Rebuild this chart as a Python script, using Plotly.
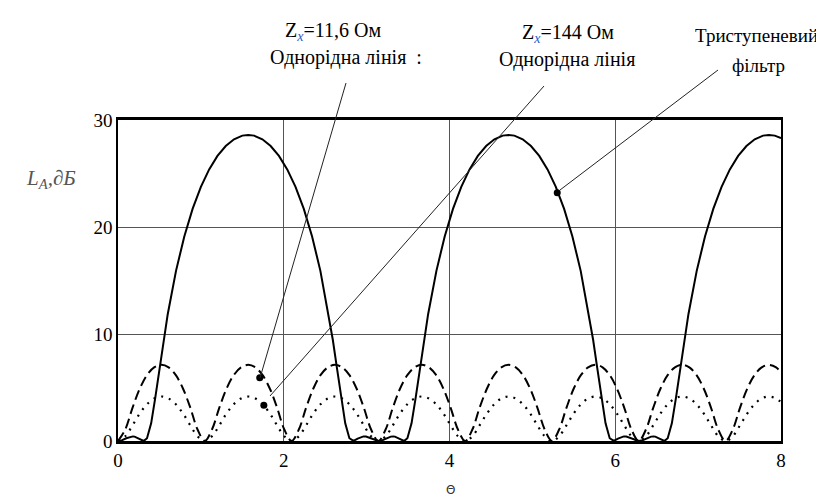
import plotly.graph_objects as go

# ---------------- data ----------------
# Three-section (stepped) filter, solid curve
theta_filter = [
    0.000, 0.050, 0.100, 0.150, 0.180, 0.200, 0.250, 0.300, 0.310, 0.350, 0.400, 0.450,
    0.500, 0.550, 0.600, 0.700, 0.800, 0.900, 1.000, 1.100, 1.200, 1.300, 1.400, 1.500, 1.571,
    1.642, 1.742, 1.842, 1.942, 2.042, 2.142, 2.242, 2.342, 2.442, 2.542, 2.592, 2.642,
    2.692, 2.742, 2.792, 2.832, 2.842, 2.892, 2.942, 2.962, 2.992, 3.042, 3.092, 3.142,
    3.192, 3.242, 3.292, 3.322, 3.342, 3.392, 3.442, 3.452, 3.492, 3.542, 3.592, 3.642,
    3.692, 3.742, 3.842, 3.942, 4.042, 4.142, 4.242, 4.342, 4.442, 4.542, 4.642, 4.712,
    4.783, 4.883, 4.983, 5.083, 5.183, 5.283, 5.383, 5.483, 5.583, 5.683, 5.733, 5.783,
    5.833, 5.883, 5.933, 5.973, 5.983, 6.033, 6.083, 6.103, 6.133, 6.183, 6.233, 6.283,
    6.333, 6.383, 6.433, 6.463, 6.483, 6.533, 6.583, 6.593, 6.633, 6.683, 6.733, 6.783,
    6.833, 6.883, 6.983, 7.083, 7.183, 7.283, 7.383, 7.483, 7.583, 7.683, 7.783, 7.854,
    7.925, 8.000,
]
la_filter = [
    0.00, 0.08, 0.26, 0.41, 0.43, 0.41, 0.23, 0.01, 0.00, 0.26, 1.65, 4.06,
    6.81, 9.46, 11.85, 15.90, 19.12, 21.69, 23.75, 25.38, 26.64, 27.57, 28.20, 28.54, 28.60,
    28.54, 28.20, 27.57, 26.64, 25.38, 23.75, 21.69, 19.12, 15.90, 11.85, 9.46, 6.81,
    4.06, 1.65, 0.26, 0.00, 0.01, 0.23, 0.41, 0.43, 0.41, 0.26, 0.08, 0.00,
    0.08, 0.26, 0.41, 0.43, 0.41, 0.23, 0.01, 0.00, 0.26, 1.65, 4.06, 6.81,
    9.46, 11.85, 15.90, 19.12, 21.69, 23.75, 25.38, 26.64, 27.57, 28.20, 28.54, 28.60,
    28.54, 28.20, 27.57, 26.64, 25.38, 23.75, 21.69, 19.12, 15.90, 11.85, 9.46, 6.81,
    4.06, 1.65, 0.26, 0.00, 0.01, 0.23, 0.41, 0.43, 0.41, 0.26, 0.08, 0.00,
    0.08, 0.26, 0.41, 0.43, 0.41, 0.23, 0.01, 0.00, 0.26, 1.65, 4.06, 6.81,
    9.46, 11.85, 15.90, 19.12, 21.69, 23.75, 25.38, 26.64, 27.57, 28.20, 28.54, 28.60,
    28.54, 28.30,
]

# Uniform lines (Zx = 11.6 Ohm dashed, Zx = 144 Ohm dotted)
theta_line = [
    0.000, 0.087, 0.175, 0.262, 0.349, 0.436, 0.524, 0.611, 0.698, 0.785, 0.873, 0.960,
    1.047, 1.134, 1.222, 1.309, 1.396, 1.484, 1.571, 1.658, 1.745, 1.833, 1.920, 2.007,
    2.094, 2.182, 2.269, 2.356, 2.443, 2.531, 2.618, 2.705, 2.793, 2.880, 2.967, 3.054,
    3.142, 3.229, 3.316, 3.403, 3.491, 3.578, 3.665, 3.752, 3.840, 3.927, 4.014, 4.102,
    4.189, 4.276, 4.363, 4.451, 4.538, 4.625, 4.712, 4.800, 4.887, 4.974, 5.061, 5.149,
    5.236, 5.323, 5.411, 5.498, 5.585, 5.672, 5.760, 5.847, 5.934, 6.021, 6.109, 6.196,
    6.283, 6.370, 6.458, 6.545, 6.632, 6.720, 6.807, 6.894, 6.981, 7.069, 7.156, 7.243,
    7.330, 7.418, 7.505, 7.592, 7.679, 7.767, 7.854, 7.941, 8.029,
]
la_line_11_6 = [
    0.00, 1.07, 3.10, 4.88, 6.15, 6.88, 7.12, 6.88, 6.15, 4.88, 3.10, 1.07,
    0.00, 1.07, 3.10, 4.88, 6.15, 6.88, 7.12, 6.88, 6.15, 4.88, 3.10, 1.07,
    0.00, 1.07, 3.10, 4.88, 6.15, 6.88, 7.12, 6.88, 6.15, 4.88, 3.10, 1.07,
    0.00, 1.07, 3.10, 4.88, 6.15, 6.88, 7.12, 6.88, 6.15, 4.88, 3.10, 1.07,
    0.00, 1.07, 3.10, 4.88, 6.15, 6.88, 7.12, 6.88, 6.15, 4.88, 3.10, 1.07,
    0.00, 1.07, 3.10, 4.88, 6.15, 6.88, 7.12, 6.88, 6.15, 4.88, 3.10, 1.07,
    0.00, 1.07, 3.10, 4.88, 6.15, 6.88, 7.12, 6.88, 6.15, 4.88, 3.10, 1.07,
    0.00, 1.07, 3.10, 4.88, 6.15, 6.88, 7.12, 6.88, 6.15,
]
la_line_144 = [
    0.00, 0.44, 1.46, 2.56, 3.43, 3.97, 4.16, 3.97, 3.43, 2.56, 1.46, 0.44,
    0.00, 0.44, 1.46, 2.56, 3.43, 3.97, 4.16, 3.97, 3.43, 2.56, 1.46, 0.44,
    0.00, 0.44, 1.46, 2.56, 3.43, 3.97, 4.16, 3.97, 3.43, 2.56, 1.46, 0.44,
    0.00, 0.44, 1.46, 2.56, 3.43, 3.97, 4.16, 3.97, 3.43, 2.56, 1.46, 0.44,
    0.00, 0.44, 1.46, 2.56, 3.43, 3.97, 4.16, 3.97, 3.43, 2.56, 1.46, 0.44,
    0.00, 0.44, 1.46, 2.56, 3.43, 3.97, 4.16, 3.97, 3.43, 2.56, 1.46, 0.44,
    0.00, 0.44, 1.46, 2.56, 3.43, 3.97, 4.16, 3.97, 3.43, 2.56, 1.46, 0.44,
    0.00, 0.44, 1.46, 2.56, 3.43, 3.97, 4.16, 3.97, 3.43,
]

# callout points on the curves
callout_theta = [1.71, 1.76, 5.30]
callout_la = [5.9, 3.35, 23.2]

x_ticks = [0, 2, 4, 6, 8]
y_ticks = [0, 10, 20, 30]

SERIF = "Liberation Serif"

fig = go.Figure()
fig.add_trace(go.Scatter(x=theta_line, y=la_line_11_6, mode="lines",
                         line=dict(color="black", width=2, dash="10px,5px", shape="spline")))
fig.add_trace(go.Scatter(x=theta_line, y=la_line_144, mode="lines",
                         line=dict(color="black", width=2.2, dash="2px,6px", shape="spline")))
fig.add_trace(go.Scatter(x=theta_filter, y=la_filter, mode="lines",
                         line=dict(color="black", width=2)))
fig.add_trace(go.Scatter(x=callout_theta, y=callout_la, mode="markers",
                         marker=dict(color="black", size=7)))

L, R, T, B = 110, 51, 112, 64
W, H = 824, 497
pw, ph = W - L - R, H - T - B


def px(x):
    return (x - L) / pw


def py(y):
    return (H - B - y) / ph


leaders = [((252, 370), (338, 75)), ((262, 388), (536, 78)), ((552, 182), (710, 62))]
shapes = []
for (x0, y0), (x1, y1) in leaders:
    shapes.append(dict(type="line", xref="paper", yref="paper",
                       x0=px(x0), y0=py(y0), x1=px(x1), y1=py(y1),
                       line=dict(color="#222", width=1)))

zx = "Z<sub><i><span style='color:#2a5cc8'>x</span></i></sub>"
texts = [
    (zx + "=11,6 Ом", 275, 24, "left", 20),
    ("Однорідна лінія  :", 260, 49, "left", 20),
    (zx + "=144 Ом", 512, 25, "left", 20),
    ("Однорідна лінія", 489, 51, "left", 20),
    ("Триступеневий", 748, 28, "center", 19),
    ("фільтр", 750, 57, "center", 19),
]
annotations = []
for t, x, y, anc, fs in texts:
    annotations.append(dict(text=t, xref="paper", yref="paper", x=px(x), y=py(y),
                            xanchor=anc, yanchor="middle", showarrow=False,
                            font=dict(family=SERIF, size=fs, color="black")))
annotations.append(dict(text="<i>L<sub>A</sub>,∂Б</i>", xref="paper", yref="paper",
                        x=px(43), y=py(171), xanchor="center", yanchor="middle",
                        showarrow=False, font=dict(family=SERIF, size=21, color="#555")))
annotations.append(dict(text="Θ", xref="paper", yref="paper",
                        x=px(442), y=py(482), xanchor="center", yanchor="middle",
                        showarrow=False, font=dict(family="DejaVu Sans", size=12, color="#333")))

fig.update_layout(
    width=W, height=H,
    margin=dict(l=L, r=R, t=T, b=B),
    plot_bgcolor="white", paper_bgcolor="white",
    showlegend=False,
    shapes=shapes, annotations=annotations,
    xaxis=dict(range=[0, 8], tickvals=x_ticks, showgrid=True, gridcolor="#555", gridwidth=1,
               showline=True, linecolor="black", linewidth=3, mirror=True, zeroline=False,
               ticks="", tickfont=dict(family=SERIF, size=19, color="black")),
    yaxis=dict(range=[0, 30], tickvals=y_ticks, showgrid=True, gridcolor="#555", gridwidth=1,
               showline=True, linecolor="black", linewidth=1.5, mirror=True, zeroline=False,
               ticks="", tickfont=dict(family=SERIF, size=19, color="black")),
)

fig.write_html("out.html")
